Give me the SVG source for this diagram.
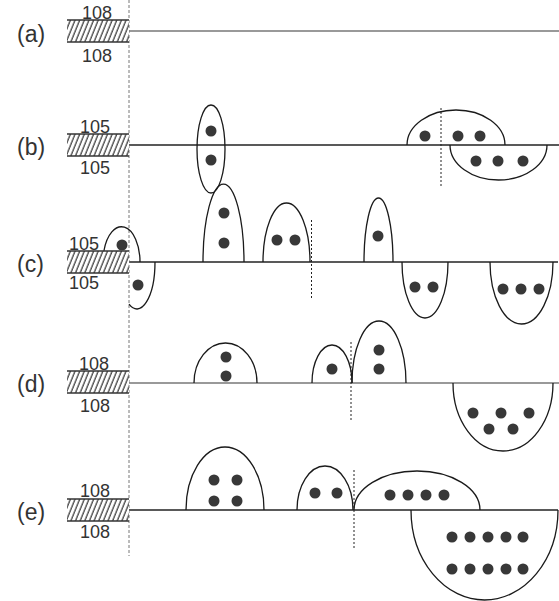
<svg xmlns="http://www.w3.org/2000/svg" width="559" height="601" viewBox="0 0 559 601">
  <defs>
    <pattern id="hatch" patternUnits="userSpaceOnUse" width="4.3" height="4.3" patternTransform="rotate(22)">
      <rect width="4.3" height="4.3" fill="#fff"/>
      <line x1="1" y1="0" x2="1" y2="4.3" stroke="#222" stroke-width="1.1"/>
    </pattern>
    <g id="wall">
      <rect x="67" y="-11" width="62" height="22" fill="url(#hatch)"/>
      <line x1="67" y1="-11" x2="129" y2="-11" stroke="#333" stroke-width="1.3"/>
      <line x1="67" y1="11" x2="129" y2="11" stroke="#333" stroke-width="1.3"/>
    </g>
  </defs>
  <style>
    .lbl { font-family: "Liberation Sans", Arial, sans-serif; font-size: 23px; fill: #333; }
    .num { font-family: "Liberation Sans", Arial, sans-serif; font-size: 18px; fill: #333; }
    .base { stroke: #222; stroke-width: 1.3; fill: none; }
    .base.light { stroke: #777; }
    .shape { stroke: #1a1a1a; stroke-width: 1.3; fill: none; }
    .cut { stroke: #222; stroke-width: 1; stroke-dasharray: 2 2; fill: none; }
    .axis { stroke: #777; stroke-width: 1; stroke-dasharray: 3 2; fill: none; }
    .dot { fill: #383838; }
  </style>

  <rect width="559" height="601" fill="#fff"/>

  <!-- baselines and cut lines -->
  <g id="connectors">
    <line class="base light" x1="129" y1="31" x2="559" y2="31"/>
    <line class="base" x1="129" y1="145" x2="559" y2="145"/>
    <line class="base" x1="129" y1="262" x2="558" y2="262"/>
    <line class="base light" x1="129" y1="383" x2="559" y2="383"/>
    <line class="base" x1="129" y1="510" x2="558" y2="510"/>
    <line class="axis" x1="129" y1="0" x2="129" y2="556"/>
    <line class="cut" x1="441" y1="108" x2="441" y2="187"/>
    <line class="cut" x1="311.5" y1="220" x2="311.5" y2="300"/>
    <line class="cut" x1="351" y1="342" x2="351" y2="422"/>
    <line class="cut" x1="354" y1="470" x2="354" y2="550"/>
  </g>

  <!-- row (a) -->
  <g id="row-a">
    <use href="#wall" y="31"/>
    <text class="lbl" x="17" y="42">(a)</text>
    <text class="num" x="82" y="19">108</text>
    <text class="num" x="82" y="62">108</text>
  </g>

  <!-- row (b) -->
  <g id="row-b">
    <use href="#wall" y="145"/>
    <text class="lbl" x="17" y="155">(b)</text>
    <text class="num" x="80" y="133">105</text>
    <text class="num" x="80" y="174">105</text>
    <g id="b1">
      <ellipse class="shape" cx="211" cy="149" rx="14" ry="44"/>
      <circle class="dot" cx="211" cy="131" r="5.5"/>
      <circle class="dot" cx="211" cy="160" r="5.5"/>
    </g>
    <g id="b2">
      <path class="shape" d="M407 145 A49 35 0 0 1 505 145"/>
      <circle class="dot" cx="425" cy="136" r="5.5"/>
      <circle class="dot" cx="458" cy="136" r="5.5"/>
      <circle class="dot" cx="480" cy="136" r="5.5"/>
    </g>
    <g id="b3">
      <path class="shape" d="M450 145 A48.5 35 0 0 0 547 145"/>
      <circle class="dot" cx="476" cy="161" r="5.5"/>
      <circle class="dot" cx="498" cy="161" r="5.5"/>
      <circle class="dot" cx="523" cy="161" r="5.5"/>
    </g>
  </g>

  <!-- row (c) -->
  <g id="row-c">
    <g id="c0">
      <path class="shape" d="M103.9 251 A18.5 35 0 0 1 140 262"/>
      <circle class="dot" cx="122" cy="245" r="5.5"/>
    </g>
    <use href="#wall" y="262"/>
    <text class="lbl" x="17" y="272">(c)</text>
    <text class="num" x="69" y="250">105</text>
    <text class="num" x="69" y="289">105</text>
    <g id="c1">
      <path class="shape" d="M155 262 A18 47 0 0 1 129 304.1"/>
      <circle class="dot" cx="138" cy="285" r="5.5"/>
    </g>
    <g id="c2">
      <path class="shape" d="M203 262 A20.5 78 0 0 1 244 262"/>
      <circle class="dot" cx="224" cy="213" r="5.5"/>
      <circle class="dot" cx="224" cy="243" r="5.5"/>
    </g>
    <g id="c3">
      <path class="shape" d="M263 262 A23.5 59 0 0 1 310 262"/>
      <circle class="dot" cx="277" cy="240" r="5.5"/>
      <circle class="dot" cx="295" cy="240" r="5.5"/>
    </g>
    <g id="c4">
      <path class="shape" d="M364 262 A14.5 64 0 0 1 393 262"/>
      <circle class="dot" cx="378" cy="236" r="5.5"/>
    </g>
    <g id="c5">
      <path class="shape" d="M402 262 A23 56 0 0 0 448 262"/>
      <circle class="dot" cx="415" cy="287" r="5.5"/>
      <circle class="dot" cx="433" cy="287" r="5.5"/>
    </g>
    <g id="c6">
      <path class="shape" d="M490 262 A31.5 62 0 0 0 553 262"/>
      <circle class="dot" cx="503" cy="289" r="5.5"/>
      <circle class="dot" cx="521" cy="289" r="5.5"/>
      <circle class="dot" cx="539" cy="289" r="5.5"/>
    </g>
  </g>

  <!-- row (d) -->
  <g id="row-d">
    <use href="#wall" y="382"/>
    <text class="lbl" x="17" y="392">(d)</text>
    <text class="num" x="79" y="370">108</text>
    <text class="num" x="80" y="412">108</text>
    <g id="d1">
      <path class="shape" d="M194 383 A31.5 40 0 0 1 257 383"/>
      <circle class="dot" cx="226" cy="357" r="5.5"/>
      <circle class="dot" cx="226" cy="376" r="5.5"/>
    </g>
    <g id="d2">
      <path class="shape" d="M312 383 A20 38 0 0 1 352 383"/>
      <circle class="dot" cx="332" cy="369" r="5.5"/>
    </g>
    <g id="d3">
      <path class="shape" d="M352 383 A27 62 0 0 1 406 383"/>
      <circle class="dot" cx="379" cy="350" r="5.5"/>
      <circle class="dot" cx="379" cy="369" r="5.5"/>
    </g>
    <g id="d4">
      <path class="shape" d="M453 383 A50 68 0 0 0 553 383"/>
      <circle class="dot" cx="473" cy="413" r="5.5"/>
      <circle class="dot" cx="501" cy="413" r="5.5"/>
      <circle class="dot" cx="529" cy="413" r="5.5"/>
      <circle class="dot" cx="489" cy="429" r="5.5"/>
      <circle class="dot" cx="513" cy="429" r="5.5"/>
    </g>
  </g>

  <!-- row (e) -->
  <g id="row-e">
    <use href="#wall" y="510"/>
    <text class="lbl" x="17" y="520">(e)</text>
    <text class="num" x="80" y="497">108</text>
    <text class="num" x="80" y="538">108</text>
    <g id="e1">
      <path class="shape" d="M186 510 A39 63 0 0 1 264 510"/>
      <circle class="dot" cx="214" cy="480" r="5.5"/>
      <circle class="dot" cx="237" cy="480" r="5.5"/>
      <circle class="dot" cx="214" cy="501" r="5.5"/>
      <circle class="dot" cx="237" cy="501" r="5.5"/>
    </g>
    <g id="e2">
      <path class="shape" d="M297 510 A28 44 0 0 1 353 510"/>
      <circle class="dot" cx="315" cy="493" r="5.5"/>
      <circle class="dot" cx="337" cy="493" r="5.5"/>
    </g>
    <g id="e3">
      <path class="shape" d="M354 510 A63 39 0 0 1 480 510"/>
      <circle class="dot" cx="390" cy="495" r="5.5"/>
      <circle class="dot" cx="408" cy="495" r="5.5"/>
      <circle class="dot" cx="426" cy="495" r="5.5"/>
      <circle class="dot" cx="444" cy="495" r="5.5"/>
    </g>
    <g id="e4">
      <path class="shape" d="M411 510 A73.5 90 0 0 0 558 510"/>
      <circle class="dot" cx="452" cy="537" r="5.5"/>
      <circle class="dot" cx="470" cy="537" r="5.5"/>
      <circle class="dot" cx="488" cy="537" r="5.5"/>
      <circle class="dot" cx="506" cy="537" r="5.5"/>
      <circle class="dot" cx="523" cy="537" r="5.5"/>
      <circle class="dot" cx="452" cy="569" r="5.5"/>
      <circle class="dot" cx="470" cy="569" r="5.5"/>
      <circle class="dot" cx="488" cy="569" r="5.5"/>
      <circle class="dot" cx="506" cy="569" r="5.5"/>
      <circle class="dot" cx="523" cy="569" r="5.5"/>
    </g>
  </g>
</svg>
